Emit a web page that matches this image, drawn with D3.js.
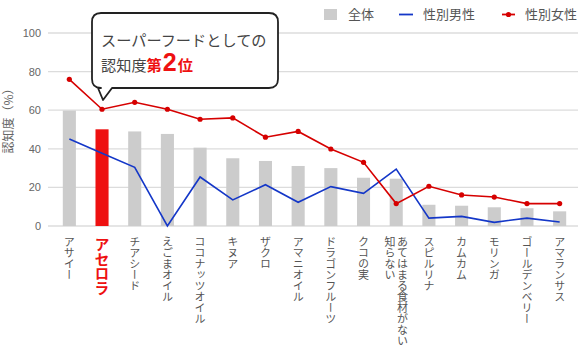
<!DOCTYPE html>
<html><head><meta charset="utf-8">
<script src="https://cdn.jsdelivr.net/npm/d3@7"></script>
<style>
html,body{margin:0;padding:0;background:#fff;}
svg{display:block;}
</style></head>
<body>
<svg id="c" width="587" height="357"></svg>
<script>
const categories = [["アサイー"],["アセロラ"],["チアシード"],["えごまオイル"],["ココナッツオイル"],["キヌア"],["ザクロ"],["アマニオイル"],["ドラゴンフルーツ"],["クコの実"],["あてはまる食材がない","知らない"],["スピルリナ"],["カムカム"],["モリンガ"],["ゴールデンベリー"],["アマランサス"]];
const total = [59.8, 50.1, 49.0, 47.7, 40.6, 35.1, 33.7, 31.1, 30.0, 25.0, 24.5, 11.0, 10.5, 9.7, 9.2, 7.6];
const male = [45.1, 37.7, 30.4, 0, 25.4, 13.5, 21.4, 12.3, 20.4, 16.9, 29.5, 4.1, 5.0, 1.9, 4.1, 2.1];
const female = [76.0, 60.5, 64.1, 60.5, 55.3, 56.0, 46.0, 49.0, 39.9, 33.0, 11.6, 20.6, 16.1, 15.0, 11.6, 11.6];
const yTicks = [0, 20, 40, 60, 80, 100];
const highlightIndex = 1;

const svg = d3.select("#c");
const JP = "'Noto Sans CJK JP', sans-serif";
const NUM = "'Liberation Sans', Arial, sans-serif";
const GRAY = "#cccccc", RED = "#d60000", BLUE = "#1437c8", BARRED = "#ee1111";

const keys = categories.map((d,i)=>String(i));
const x = d3.scaleBand().domain(keys).range([53,576]).paddingInner(0.6).paddingOuter(0.3);
const y = d3.scaleLinear().domain([0,100]).range([226,33]);

// gridlines
svg.append("g").selectAll("line").data(yTicks).join("line")
  .attr("x1",48).attr("x2",578).attr("y1",d=>y(d)).attr("y2",d=>y(d))
  .attr("stroke","#dcdcdc").attr("stroke-width",1.3);

// y axis labels
const yAxis = d3.axisLeft(y).tickValues(yTicks).tickSize(0).tickPadding(0);
const ga = svg.append("g").attr("transform","translate(41,0)").call(yAxis);
ga.select(".domain").remove();
ga.selectAll("text").attr("font-family",NUM).attr("font-size",11).attr("fill","#666");

// y title
svg.append("text").attr("transform","translate(13,118) rotate(-90)")
  .attr("text-anchor","middle").attr("font-family",JP).attr("font-size",12).attr("fill","#666")
  .text("認知度（%）");

// bars
svg.append("g").selectAll("rect").data(total).join("rect")
  .attr("x",(d,i)=>x(keys[i])).attr("width",x.bandwidth())
  .attr("y",d=>y(d)).attr("height",d=>y(0)-y(d))
  .attr("fill",(d,i)=>i===highlightIndex?BARRED:GRAY);

const cx = i => x(keys[i]) + x.bandwidth()/2;

// male line
svg.append("path").datum(male)
  .attr("d", d3.line().x((d,i)=>cx(i)).y(d=>y(d)))
  .attr("fill","none").attr("stroke",BLUE).attr("stroke-width",1.6);

// female line
svg.append("path").datum(female)
  .attr("d", d3.line().x((d,i)=>cx(i)).y(d=>y(d)))
  .attr("fill","none").attr("stroke",RED).attr("stroke-width",1.6);
svg.append("g").selectAll("circle").data(female).join("circle")
  .attr("cx",(d,i)=>cx(i)).attr("cy",d=>y(d)).attr("r",2.6).attr("fill",RED);

// x labels (vertical)
const xl = svg.append("g");
categories.forEach((lines,i)=>{
  const n = lines.length;
  const hi = i===highlightIndex;
  const colW = 12.5;
  lines.forEach((t,j)=>{
    const off = (n-1)/2*colW - j*colW;
    xl.append("text")
      .attr("x", cx(i)+off).attr("y", hi?237:236)
      .attr("style","writing-mode: vertical-rl;")
      .attr("font-family",JP)
      .attr("font-size", hi?15:11)
      .attr("font-weight", hi?"bold":"normal")
      .attr("letter-spacing", hi?"-0.5px":"0px")
      .attr("fill", hi?BARRED:"#555")
      .text(t);
  });
});

// legend
const lg = svg.append("g").attr("font-family",JP).attr("font-size",13).attr("fill","#555");
lg.append("rect").attr("x",324).attr("y",9).attr("width",13).attr("height",11).attr("fill",GRAY);
lg.append("text").attr("x",348).attr("y",19).text("全体");
lg.append("line").attr("x1",399).attr("x2",413).attr("y1",14.5).attr("y2",14.5).attr("stroke",BLUE).attr("stroke-width",1.8);
lg.append("text").attr("x",423).attr("y",19).text("性別男性");
lg.append("line").attr("x1",502).attr("x2",515).attr("y1",14.5).attr("y2",14.5).attr("stroke",RED).attr("stroke-width",1.8);
lg.append("circle").attr("cx",508.5).attr("cy",14.5).attr("r",2.6).attr("fill",RED);
lg.append("text").attr("x",525).attr("y",19).text("性別女性");

// callout
const L=92, R=278, T=13, B=88, r=9, p1=98, p2=112, tipX=103, tipY=100;
const path = `M${L+r},${T} H${R-r} Q${R},${T} ${R},${T+r} V${B-r} Q${R},${B} ${R-r},${B} H${p2} L${tipX},${tipY} L${p1},${B} H${L+r} Q${L},${B} ${L},${B-r} V${T+r} Q${L},${T} ${L+r},${T} Z`;
svg.append("path").attr("d",path).attr("fill","#fff").attr("stroke","#222").attr("stroke-width",1.8).attr("stroke-linejoin","round");
svg.append("text").attr("x",101).attr("y",46).attr("font-family",JP).attr("font-size",15.2).attr("fill","#444")
  .text("スーパーフードとしての");
const t2 = svg.append("text").attr("x",101).attr("y",71).attr("font-family",JP).attr("font-size",15.2).attr("fill","#444");
t2.append("tspan").text("認知度");
t2.append("tspan").attr("fill",BARRED).attr("font-weight","bold").text("第");
t2.append("tspan").attr("fill",BARRED).attr("font-weight","bold").attr("font-size",25).attr("font-family",NUM).attr("dx",1).text("2");
t2.append("tspan").attr("fill",BARRED).attr("font-weight","bold").attr("dx",1).text("位");
</script>
</body></html>
